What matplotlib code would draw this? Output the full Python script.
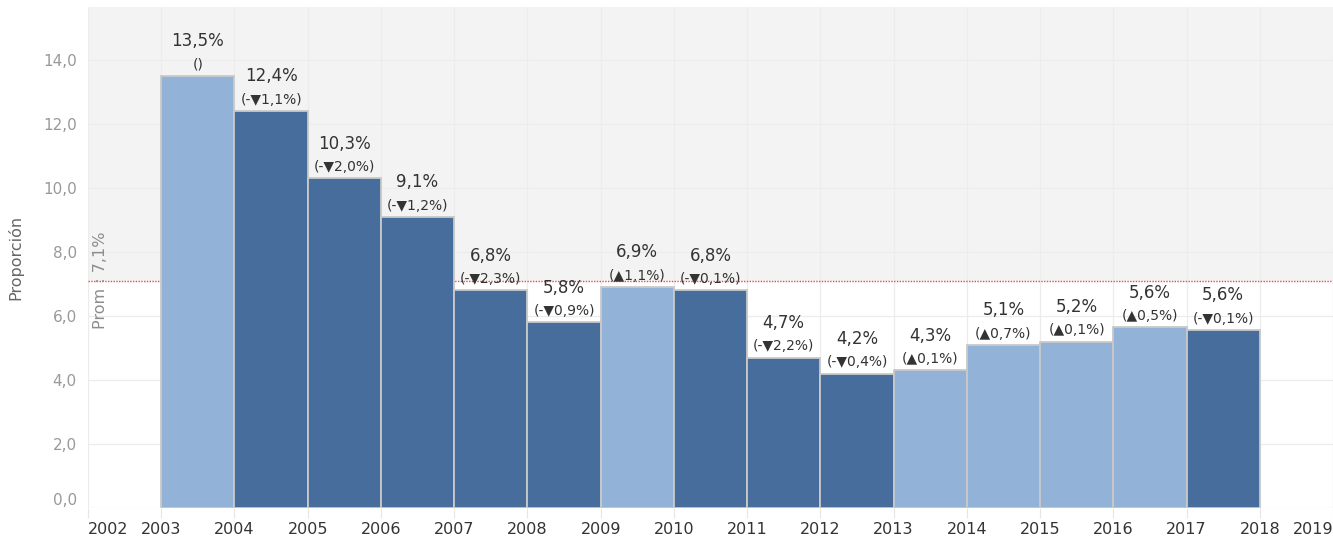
import matplotlib.pyplot as plt
from matplotlib.ticker import FuncFormatter

# data
years = [2003, 2004, 2005, 2006, 2007, 2008, 2009, 2010,
         2011, 2012, 2013, 2014, 2015, 2016, 2017]
values = [13.5, 12.4, 10.3, 9.1, 6.8, 5.8, 6.9, 6.8,
          4.7, 4.2, 4.3, 5.1, 5.2, 5.64, 5.56]
changes = [None, -1.1, -2.0, -1.2, -2.3, -0.9, 1.1, -0.1,
           -2.2, -0.4, 0.1, 0.7, 0.1, 0.5, -0.1]
tick_years = list(range(2002, 2020))
average = 7.1

LIGHT = '#92b3d7'
DARK = '#466d9b'

plt.rcParams['font.family'] = ['DejaVu Sans']


def fmt_change(c):
    if c is None:
        return '()'
    s = f"{abs(c):.1f}".replace('.', ',')
    if c < 0:
        return f"(-\u25bc{s}%)"
    return f"(\u25b2{s}%)"


fig = plt.figure(figsize=(13.33, 5.39), dpi=100)
ax = fig.add_axes([0.066, 0.0575, 0.934, 0.93])

ymax = 15.66
ax.set_xlim(2002, 2019)
ax.set_ylim(0, ymax)

# shaded band above the average and reference line
ax.axhspan(average, ymax, color='#f3f3f3', zorder=0, lw=0)
ax.axhline(average, color='#e8494a', lw=1.0, ls=(0, (1, 1)), zorder=1)

# faint grid
for y in range(0, 16, 2):
    ax.axhline(y, color='#ececec', lw=0.9, zorder=0.5)
for yr in tick_years:
    ax.axvline(yr, color='#ececec', lw=0.9, zorder=0.5)

colors = [DARK if (c is not None and c < 0) else LIGHT for c in changes]
ax.bar(years, values, width=1.0, align='edge', color=colors,
       edgecolor='#c9c9c9', linewidth=1.3, zorder=2)

for yr, v, c in zip(years, values, changes):
    xc = yr + 0.5
    ax.annotate(f"{v:.1f}".replace('.', ',') + '%', (xc, v),
                xytext=(0, 25), textcoords='offset points',
                ha='center', va='center', fontsize=12, color='#333333', zorder=3)
    ax.annotate(fmt_change(c), (xc, v),
                xytext=(0, 8), textcoords='offset points',
                ha='center', va='center', fontsize=10, color='#333333', zorder=3)

ax.text(2002.17, average, 'Prom : 7,1%', rotation=90, ha='center', va='center',
        fontsize=11.5, color='#8c8c8c', zorder=3)

# axes styling
for s in ax.spines.values():
    s.set_visible(False)

ax.set_yticks(range(0, 16, 2))
ax.yaxis.set_major_formatter(FuncFormatter(lambda v, p: f"{v:.1f}".replace('.', ',')))
ax.tick_params(axis='y', length=0, labelsize=11, labelcolor='#999999', pad=8)
ax.get_yticklabels()[0].set_va('bottom')

ax.set_xticks(tick_years)
ax.set_xticklabels([str(y) for y in tick_years])
ax.tick_params(axis='x', length=7, color='#e6e6e6', labelsize=11.5,
               labelcolor='#333333', pad=3)
xl = ax.get_xticklabels()
xl[0].set_ha('left')
xl[-1].set_ha('right')

ax.set_ylabel('Proporción', fontsize=11.5, color='#666666', labelpad=14)

fig.savefig('out.png', dpi=100)
